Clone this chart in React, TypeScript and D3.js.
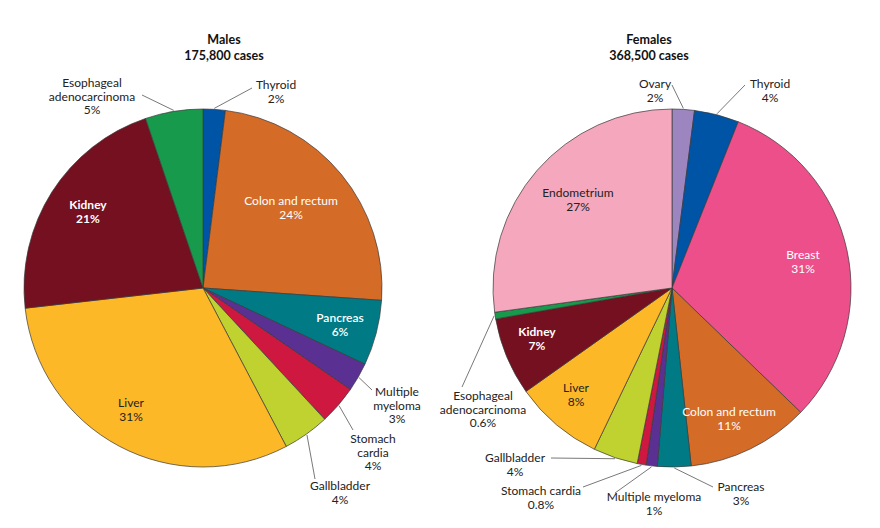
import React from "react";
import * as d3 from "d3";

const maleCategories = ["Thyroid", "Colon and rectum", "Pancreas", "Multiple myeloma", "Stomach cardia", "Gallbladder", "Liver", "Kidney", "Esophageal adenocarcinoma"];
const maleValues = [2.0, 24.1, 5.9, 2.6, 3.5, 4.2, 30.9, 21.6, 5.2];
const maleLabels = ["2%", "24%", "6%", "3%", "4%", "4%", "31%", "21%", "5%"];

const femaleCategories = ["Ovary", "Thyroid", "Breast", "Colon and rectum", "Pancreas", "Multiple myeloma", "Stomach cardia", "Gallbladder", "Liver", "Kidney", "Esophageal adenocarcinoma", "Endometrium"];
const femaleValues = [2, 4, 31, 11, 3, 1, 0.8, 4, 8, 7, 0.6, 27];
const femaleLabels = ["2%", "4%", "31%", "11%", "3%", "1%", "0.8%", "4%", "8%", "7%", "0.6%", "27%"];

const colors: Record<string, string> = {
  "Thyroid": "#0054a6",
  "Colon and rectum": "#d46b27",
  "Pancreas": "#007b85",
  "Multiple myeloma": "#5a3192",
  "Stomach cardia": "#cf1840",
  "Gallbladder": "#bfd22f",
  "Liver": "#fdb827",
  "Kidney": "#751020",
  "Esophageal adenocarcinoma": "#179a4b",
  "Ovary": "#9d86bf",
  "Breast": "#ec4f8a",
  "Endometrium": "#f5a8bd",
};

type LabelSpec = {
  lines: string[];
  x: number; y: number;
  color: string;
  weight?: number;
  leader?: [number, number];
};

const FONT = "Lato, 'Noto Sans', sans-serif";

function Pie({ cx, cy, r, cats, vals, pct, labels, title, subtitle, tx }: any) {
  const pie = d3.pie<number>().sort(null).value((d) => d);
  const arcs = pie(vals);
  const arc = d3.arc<d3.PieArcDatum<number>>().innerRadius(0).outerRadius(r);
  return (
    <g>
      <text x={tx} y={44} textAnchor="middle" fontFamily={FONT} fontWeight={700} fontSize={12.5} fill="#111">{title}</text>
      <text x={tx} y={60} textAnchor="middle" fontFamily={FONT} fontWeight={700} fontSize={12.5} fill="#111">{subtitle}</text>
      <g transform={`translate(${cx},${cy})`}>
        {arcs.map((a, i) => (
          <path key={i} d={arc(a) || ""} fill={colors[cats[i]]} stroke="#3a3a3a" strokeWidth={0.7} strokeLinejoin="round" />
        ))}
        {arcs.map((a, i) => {
          const L: LabelSpec = labels[cats[i]];
          if (!L || !L.leader) return null;
          const mid = (a.startAngle + a.endAngle) / 2;
          const sx = Math.sin(mid) * (r + 1);
          const sy = -Math.cos(mid) * (r + 1);
          return <line key={"l" + i} x1={sx} y1={sy} x2={L.leader[0] - cx} y2={L.leader[1] - cy} stroke="#555" strokeWidth={0.8} />;
        })}
      </g>
      {cats.map((c: string, i: number) => {
        const L: LabelSpec = labels[c];
        const lines = [...L.lines, pct[i]];
        return (
          <text key={"t" + i} textAnchor="middle" fontFamily={FONT} fontSize={12} fill={L.color} fontWeight={L.weight || 400}>
            {lines.map((s, j) => (
              <tspan key={j} x={L.x} y={L.y + j * 13.5}>{s}</tspan>
            ))}
          </text>
        );
      })}
    </g>
  );
}

const maleLabelSpecs: Record<string, LabelSpec> = {
  "Thyroid": { lines: ["Thyroid"], x: 276, y: 89, color: "#222", leader: [252, 88] },
  "Colon and rectum": { lines: ["Colon and rectum"], x: 291, y: 205, color: "#fff" },
  "Pancreas": { lines: ["Pancreas"], x: 340, y: 322, color: "#fff", weight: 600 },
  "Multiple myeloma": { lines: ["Multiple", "myeloma"], x: 397, y: 396, color: "#222", leader: [372, 390] },
  "Stomach cardia": { lines: ["Stomach", "cardia"], x: 373, y: 443, color: "#222", leader: [353, 430] },
  "Gallbladder": { lines: ["Gallbladder"], x: 340, y: 490, color: "#222", leader: [315, 479] },
  "Liver": { lines: ["Liver"], x: 131, y: 407, color: "#222" },
  "Kidney": { lines: ["Kidney"], x: 88, y: 209, color: "#fff", weight: 700 },
  "Esophageal adenocarcinoma": { lines: ["Esophageal", "adenocarcinoma"], x: 92, y: 87, color: "#222", leader: [142, 95] },
};

const femaleLabelSpecs: Record<string, LabelSpec> = {
  "Ovary": { lines: ["Ovary"], x: 655, y: 88, color: "#222", leader: [672, 85] },
  "Thyroid": { lines: ["Thyroid"], x: 770, y: 88, color: "#222", leader: [745, 85] },
  "Breast": { lines: ["Breast"], x: 803, y: 259, color: "#fff" },
  "Colon and rectum": { lines: ["Colon and rectum"], x: 729, y: 416, color: "#fff" },
  "Pancreas": { lines: ["Pancreas"], x: 741, y: 491, color: "#222", leader: [713, 487] },
  "Multiple myeloma": { lines: ["Multiple myeloma"], x: 654, y: 501, color: "#222", leader: [615, 493] },
  "Stomach cardia": { lines: ["Stomach cardia"], x: 541, y: 495, color: "#222", leader: [583, 487] },
  "Gallbladder": { lines: ["Gallbladder"], x: 515, y: 462, color: "#222", leader: [551, 458] },
  "Liver": { lines: ["Liver"], x: 576, y: 392, color: "#222" },
  "Kidney": { lines: ["Kidney"], x: 537, y: 336, color: "#fff", weight: 700 },
  "Esophageal adenocarcinoma": { lines: ["Esophageal", "adenocarcinoma"], x: 483, y: 400, color: "#222", leader: [462, 387] },
  "Endometrium": { lines: ["Endometrium"], x: 578, y: 197, color: "#222" },
};

export default function App() {
  return (
    <svg width={880} height={528} style={{ display: "block", position: "absolute", left: 0, top: 0, background: "#fff" }}>
      <Pie cx={203} cy={288} r={179} cats={maleCategories} vals={maleValues} pct={maleLabels} labels={maleLabelSpecs} title="Males" subtitle="175,800 cases" tx={224} />
      <Pie cx={672} cy={288} r={179} cats={femaleCategories} vals={femaleValues} pct={femaleLabels} labels={femaleLabelSpecs} title="Females" subtitle="368,500 cases" tx={649} />
    </svg>
  );
}
